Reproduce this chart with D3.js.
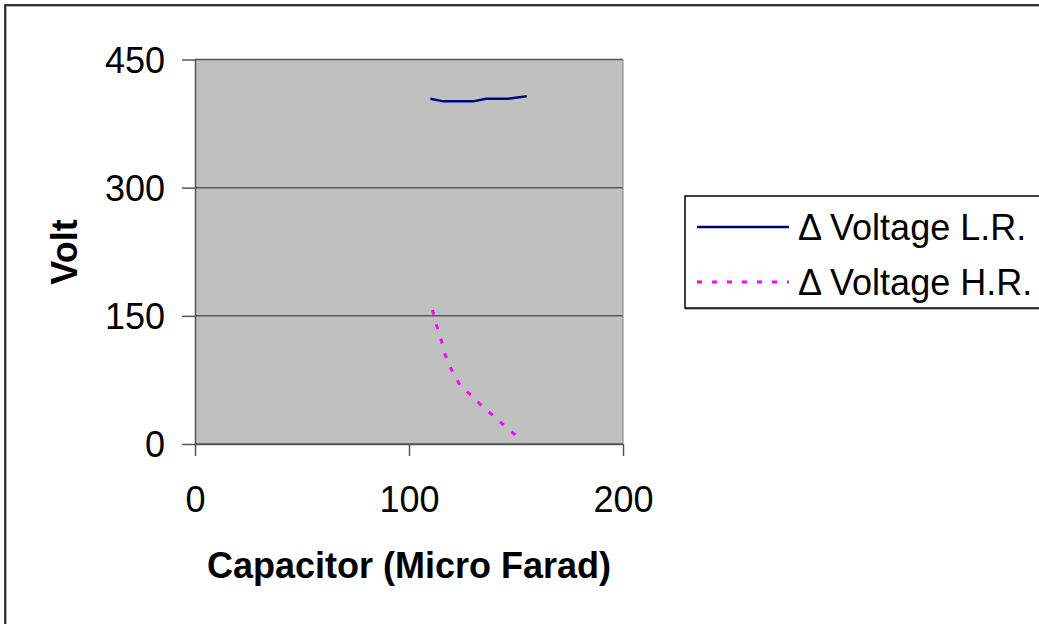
<!DOCTYPE html>
<html>
<head>
<meta charset="utf-8">
<script src="https://cdn.jsdelivr.net/npm/d3@7"></script>
<style>
  body { margin: 0; background: #fff; }
  svg { display: block; font-family: "Liberation Sans", Arial, sans-serif; }
</style>
</head>
<body>
<svg id="chart" width="1039" height="624"></svg>
<script>
// Capacitance (µF) and voltage ripple readings for the two load cases
const capLR = [110, 116, 124, 130, 136, 146, 155];
const voltLR = [404, 401, 401, 401, 404, 404, 407];
const capHR = [111, 113, 115, 117, 120, 124, 130, 135, 140, 146, 152];
const voltHR = [157, 138, 122, 104, 86, 68, 55, 42, 32, 18, 6];
const xTicks = [0, 100, 200];
const yTicks = [0, 150, 300, 450];
const seriesNames = ["\u0394 Voltage L.R.", "\u0394 Voltage H.R."];

const svg = d3.select("#chart");
const plot = { left: 195, right: 623, top: 59.5, bottom: 444 };

const x = d3.scaleLinear().domain([0, 200]).range([plot.left, plot.right]);
const y = d3.scaleLinear().domain([0, 450]).range([plot.bottom, plot.top]);

// outer chart frame
svg.append("rect").attr("x", 6).attr("y", 6).attr("width", 1040).attr("height", 640)
  .attr("fill", "none").attr("stroke", "#999").attr("stroke-width", 1.5);
svg.append("rect").attr("x", 5).attr("y", 5).attr("width", 1040).attr("height", 640)
  .attr("fill", "none").attr("stroke", "#000").attr("stroke-width", 1.5);

// plot background
svg.append("rect").attr("x", plot.left).attr("y", plot.top)
  .attr("width", plot.right - plot.left).attr("height", plot.bottom - plot.top)
  .attr("fill", "#c0c0c0");

// horizontal gridlines
svg.append("g").selectAll("line").data(yTicks).join("line")
  .attr("x1", plot.left).attr("x2", plot.right)
  .attr("y1", d => y(d)).attr("y2", d => y(d))
  .attr("stroke", "#555").attr("stroke-width", 1.5);

// right edge of plot area
svg.append("line").attr("x1", plot.right).attr("x2", plot.right)
  .attr("y1", plot.top).attr("y2", plot.bottom)
  .attr("stroke", "#808080").attr("stroke-width", 1);

// y axis
const yAxis = d3.axisLeft(y).tickValues(yTicks).tickSize(13).tickPadding(17).tickSizeOuter(0);
const gy = svg.append("g").attr("transform", `translate(${plot.left},0)`).call(yAxis);
// x axis
const xAxis = d3.axisBottom(x).tickValues(xTicks).tickSize(12).tickPadding(30).tickSizeOuter(0);
const gx = svg.append("g").attr("transform", `translate(0,${plot.bottom})`).call(xAxis);

[gx, gy].forEach(g => {
  g.select(".domain").attr("stroke", "#555").attr("stroke-width", 1.5);
  g.selectAll(".tick line").attr("stroke", "#555").attr("stroke-width", 1.5);
  g.selectAll(".tick text").attr("font-size", 36).attr("fill", "#000")
    .attr("font-family", "Liberation Sans, Arial, sans-serif");
});
gy.selectAll(".tick text").attr("dy", "0.35em");

// axis titles
svg.append("text").attr("x", 409).attr("y", 578).attr("text-anchor", "middle")
  .attr("font-size", 36).attr("font-weight", "bold").text("Capacitor (Micro Farad)");
svg.append("text").attr("transform", "translate(77,252) rotate(-90)")
  .attr("text-anchor", "middle").attr("font-size", 36).attr("font-weight", "bold").text("Volt");

// series lines
const line = d3.line().x(d => x(d[0])).y(d => y(d[1]));
svg.append("path").datum(d3.zip(capLR, voltLR))
  .attr("d", line).attr("fill", "none").attr("stroke", "#000080").attr("stroke-width", 2.5);
svg.append("path").datum(d3.zip(capHR, voltHR))
  .attr("d", line).attr("fill", "none").attr("stroke", "#ff00ff").attr("stroke-width", 3)
  .attr("stroke-dasharray", "5,10");

// legend
const lg = svg.append("g");
lg.append("rect").attr("x", 686).attr("y", 197).attr("width", 360).attr("height", 112)
  .attr("fill", "none").attr("stroke", "#999").attr("stroke-width", 1.5);
lg.append("rect").attr("x", 685).attr("y", 196).attr("width", 360).attr("height", 112)
  .attr("fill", "#fff").attr("stroke", "#000").attr("stroke-width", 1.5);
const legendY = [227, 282];
const styles = [
  { stroke: "#000080", width: 2.5, dash: null },
  { stroke: "#ff00ff", width: 3, dash: "5,10" }
];
seriesNames.forEach((name, i) => {
  lg.append("line").attr("x1", 697).attr("x2", 789)
    .attr("y1", legendY[i]).attr("y2", legendY[i])
    .attr("stroke", styles[i].stroke).attr("stroke-width", styles[i].width)
    .attr("stroke-dasharray", styles[i].dash);
  lg.append("text").attr("x", 798).attr("y", legendY[i]).attr("dy", "0.35em")
    .attr("font-size", 36).text(name);
});
</script>
</body>
</html>
